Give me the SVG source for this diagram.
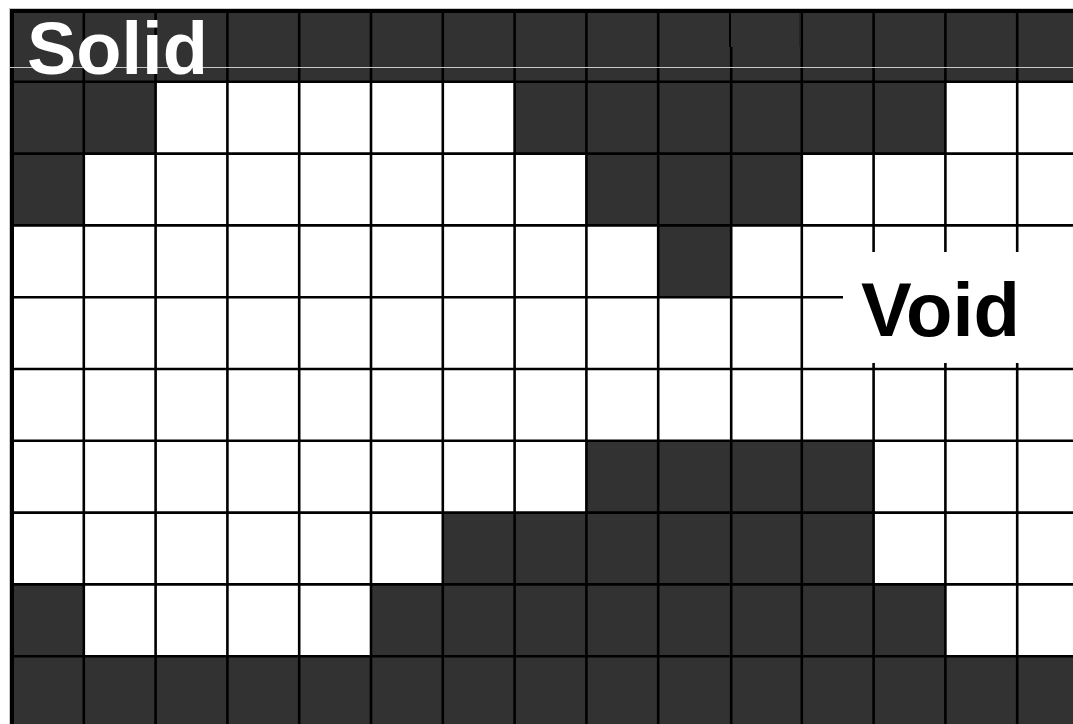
<svg xmlns="http://www.w3.org/2000/svg" width="1073" height="724" viewBox="0 0 1073 724">
<style>
.dk{fill:#323232}
.gl line{stroke:#000;stroke-width:2.6}
.lbl{font-family:"Liberation Sans",Arial,sans-serif;font-weight:bold}
</style>
<rect width="1073" height="724" fill="#fff"/>
<g id="cells">
<rect class="dk" x="12" y="10" width="1078" height="71.8"/>
<rect class="dk" x="12" y="81.8" width="143.6" height="71.8"/>
<rect class="dk" x="514.6" y="81.8" width="430.8" height="71.8"/>
<rect class="dk" x="12" y="153.6" width="71.8" height="71.8"/>
<rect class="dk" x="586.4" y="153.6" width="215.4" height="71.8"/>
<rect class="dk" x="658.2" y="225.4" width="71.8" height="71.8"/>
<rect class="dk" x="586.4" y="440.8" width="287.2" height="71.8"/>
<rect class="dk" x="442.8" y="512.6" width="430.8" height="71.8"/>
<rect class="dk" x="12" y="584.4" width="71.8" height="71.8"/>
<rect class="dk" x="371" y="584.4" width="574.4" height="71.8"/>
<rect class="dk" x="12" y="656.2" width="1078" height="71.8"/>
</g>
<g id="connectors" class="gl">
<line x1="83.8" y1="10" x2="83.8" y2="724"/>
<line x1="155.6" y1="10" x2="155.6" y2="724"/>
<line x1="227.4" y1="10" x2="227.4" y2="724"/>
<line x1="299.2" y1="10" x2="299.2" y2="724"/>
<line x1="371" y1="10" x2="371" y2="724"/>
<line x1="442.8" y1="10" x2="442.8" y2="724"/>
<line x1="514.6" y1="10" x2="514.6" y2="724"/>
<line x1="586.4" y1="10" x2="586.4" y2="724"/>
<line x1="658.2" y1="10" x2="658.2" y2="724"/>
<line x1="731.2" y1="47" x2="731.2" y2="724"/>
<line x1="730" y1="10" x2="730" y2="47" style="stroke-width:2"/>
<line x1="801.8" y1="10" x2="801.8" y2="724"/>
<line x1="800" y1="10" x2="800" y2="47" style="stroke:#222;stroke-width:1.5"/>
<line x1="873.6" y1="10" x2="873.6" y2="724"/>
<line x1="945.4" y1="10" x2="945.4" y2="724"/>
<line x1="1017.2" y1="10" x2="1017.2" y2="724"/>
<line x1="12" y1="81.8" x2="1073" y2="81.8"/>
<line x1="12" y1="153.6" x2="1073" y2="153.6"/>
<line x1="12" y1="225.4" x2="1073" y2="225.4"/>
<line x1="12" y1="297.2" x2="1073" y2="297.2"/>
<line x1="12" y1="369" x2="1073" y2="369"/>
<line x1="12" y1="440.8" x2="1073" y2="440.8"/>
<line x1="12" y1="512.6" x2="1073" y2="512.6"/>
<line x1="12" y1="584.4" x2="1073" y2="584.4"/>
<line x1="12" y1="656.2" x2="1073" y2="656.2"/>
<line x1="12" y1="11" x2="1073" y2="11" style="stroke-width:4"/>
<line x1="12" y1="9" x2="12" y2="724" style="stroke-width:4"/>
<line x1="9.5" y1="8" x2="9.5" y2="724" style="stroke:#c8c8c8;stroke-width:1"/>
<line x1="9" y1="8.5" x2="1073" y2="8.5" style="stroke:#c8c8c8;stroke-width:1"/>
<line x1="10" y1="67.5" x2="1073" y2="67.5" style="stroke:#c8c8c8;stroke-width:1"/>
</g>
<g id="void">
<rect x="843" y="252" width="240" height="111" fill="#fff"/>
<text class="lbl" x="861" y="336" font-size="76" fill="#000">Void</text>
</g>
<g id="solid">
<text class="lbl" x="27" y="74" font-size="74" fill="#fff">Solid</text>
</g>
</svg>
